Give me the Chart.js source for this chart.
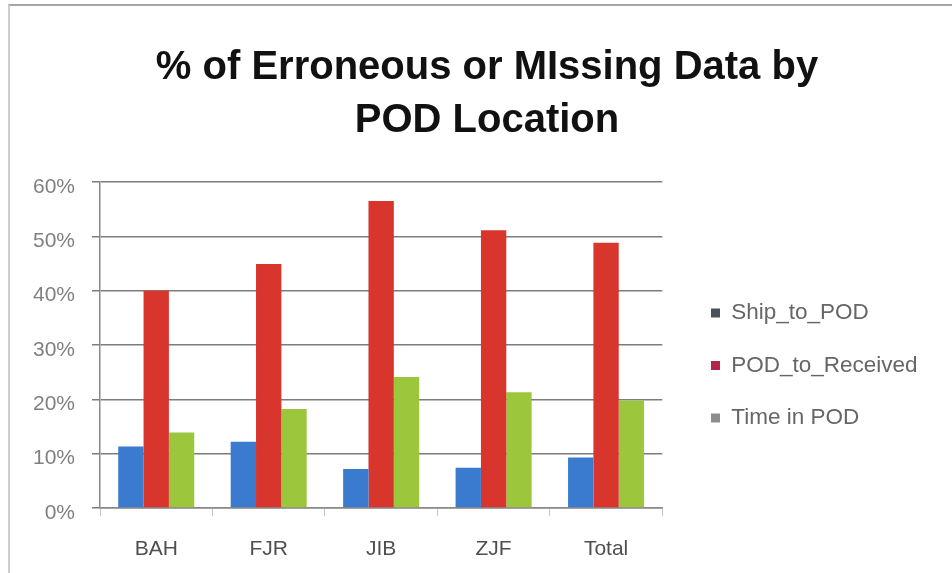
<!DOCTYPE html>
<html>
<head>
<meta charset="utf-8">
<script src="https://cdn.jsdelivr.net/npm/chart.js@4/dist/chart.umd.min.js"></script>
<style>
  html, body { margin: 0; padding: 0; background: #ffffff; overflow: hidden; }
  #wrap { position: relative; width: 952px; height: 573px; }
  #frame { position: absolute; left: 8px; top: 4px; right: 0; bottom: 0;
           border-top: 2px solid #a6a6a6; border-left: 2px solid #cfcfcf; pointer-events: none; }
  canvas { position: absolute; left: 0; top: 0; }
</style>
</head>
<body>
<div id="wrap">
  <canvas id="c" width="952" height="573"></canvas>
  <div id="frame"></div>
</div>
<script>
// ---- data ----
const categories = ['BAH', 'FJR', 'JIB', 'ZJF', 'Total'];
const seriesNames = ['Ship_to_POD', 'POD_to_Received', 'Time in POD'];
const shipToPod = [11.3, 12.2, 7.2, 7.4, 9.3];
const podToReceived = [40.0, 44.9, 56.5, 51.1, 48.8];
const timeInPod = [13.9, 18.2, 24.1, 21.3, 19.8];
const yTickLabels = ['0%', '10%', '20%', '30%', '40%', '50%', '60%'];
const titleLines = ['% of Erroneous or MIssing Data by', 'POD Location'];

// ---- styles ----
const barColors = ['#3a7bcf', '#d8352d', '#9cc63c'];
const markerColors = ['#4b505a', '#b3264c', '#8c8c8c'];
const LEGEND_WIDTH = 263;

// keep the right-hand legend at a fixed width (Chart.js caps side boxes otherwise)
const legendWidthPlugin = {
  id: 'legendWidth',
  beforeLayout(chart) {
    const lg = chart.legend;
    if (lg && !lg._fixedWidth) {
      const origFit = lg.fit.bind(lg);
      lg.fit = function () { origFit(); this.width = LEGEND_WIDTH; };
      lg._fixedWidth = true;
    }
  }
};

const chart = new Chart(document.getElementById('c'), {
  type: 'bar',
  data: {
    labels: categories,
    datasets: [
      { label: seriesNames[0], data: shipToPod, backgroundColor: barColors[0] },
      { label: seriesNames[1], data: podToReceived, backgroundColor: barColors[1] },
      { label: seriesNames[2], data: timeInPod, backgroundColor: barColors[2] }
    ]
  },
  plugins: [legendWidthPlugin],
  options: {
    responsive: false,
    animation: false,
    datasets: { bar: { categoryPercentage: 0.676, barPercentage: 1.0, borderWidth: 0 } },
    layout: { padding: { left: 30, right: 8, top: 0, bottom: 11 } },
    plugins: {
      tooltip: { enabled: false },
      title: {
        display: true,
        text: titleLines,
        color: '#111111',
        font: { family: 'Liberation Sans', size: 40, weight: 'bold', lineHeight: 1.325 },
        padding: { top: 41.5, bottom: 34.5 }
      },
      legend: {
        display: true,
        position: 'right',
        fullSize: false,
        title: { display: true, text: '', font: { size: 10, lineHeight: 1 }, padding: { top: 31, bottom: 0 } },
        labels: {
          boxWidth: 9,
          boxHeight: 9,
          padding: 30,
          color: '#383838',
          font: { family: 'Liberation Sans', size: 22.5 },
          generateLabels: (ch) => ch.data.datasets.map((ds, i) => ({
            text: ds.label,
            fillStyle: markerColors[i],
            strokeStyle: markerColors[i],
            lineWidth: 0,
            hidden: false,
            datasetIndex: i
          }))
        }
      }
    },
    scales: {
      x: {
        afterFit: (s) => { s.height = 54; },
        grid: { display: true, drawOnChartArea: false, drawTicks: true, tickLength: 8, color: '#c4c4c4', offset: true },
        border: { display: true, color: '#8a8a8a', width: 1.5 },
        ticks: { color: '#4f4f4f', font: { family: 'Liberation Sans', size: 21 }, padding: 20.5 }
      },
      y: {
        min: 0,
        max: 60,
        afterFit: (s) => { s.width = 70; },
        grid: { color: '#7c7c7c', lineWidth: 1.5, tickLength: 8, drawTicks: true },
        border: { display: true, color: '#8a8a8a', width: 1.5 },
        ticks: {
          stepSize: 10,
          padding: 17,
          labelOffset: 5,
          color: '#808080',
          font: { family: 'Liberation Sans', size: 21 },
          callback: (v) => yTickLabels[Math.round(v / 10)]
        }
      },
      spacer: {
        type: 'linear',
        position: 'right',
        display: true,
        afterFit: (s) => { s.width = 18.7; },
        grid: { display: false, drawTicks: false },
        border: { display: false },
        ticks: { display: false }
      }
    }
  }
});
</script>
</body>
</html>
